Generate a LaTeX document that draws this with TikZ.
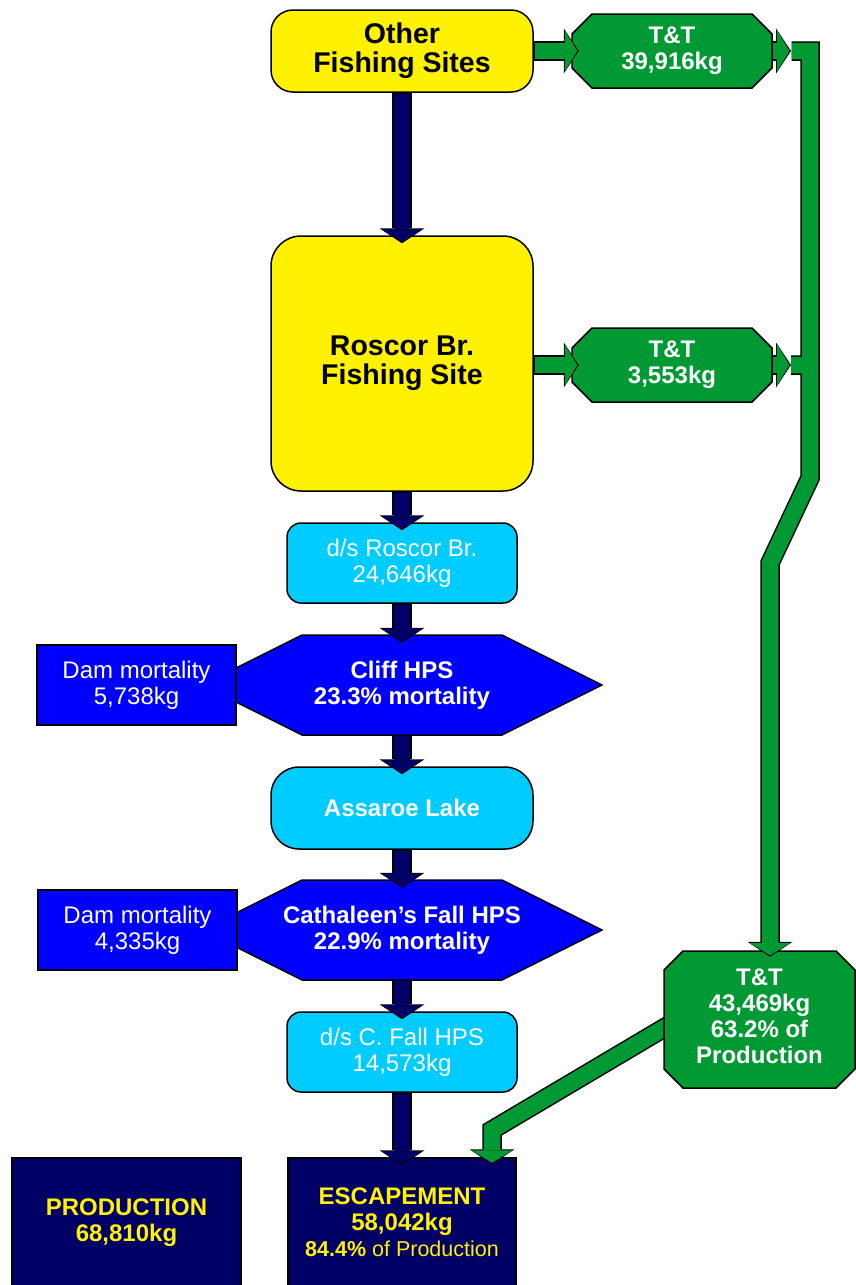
\documentclass[tikz,border=0pt]{standalone}
\usepackage{fontspec}
\setmainfont{Liberation Sans}
\usetikzlibrary{arrows.meta,calc}

\definecolor{ttgreen}{HTML}{009933}
\definecolor{navyblue}{HTML}{000066}
\definecolor{lakecyan}{HTML}{00CCFF}
\definecolor{hpsblue}{HTML}{0000FF}

\begin{document}
\begin{tikzpicture}[x=1pt, y=-1pt,
    every node/.style={align=center, inner sep=0pt},
    big/.style={font=\bfseries\fontsize{28.5}{29}\selectfont},
    txt/.style={font=\fontsize{24}{26}\selectfont},
    btxt/.style={font=\bfseries\fontsize{24}{26}\selectfont},
    yellowbox/.style={draw=black, line width=1.5pt, fill=yellow, minimum width=262pt, big},
    cyanbox/.style={draw=black, line width=1.5pt, fill=lakecyan, text=white,
        rounded corners=14pt, minimum width=230pt, minimum height=80pt},
    dambox/.style={draw=black, line width=1.5pt, fill=hpsblue, text=white, txt,
        minimum width=199pt, minimum height=80pt},
    darkbox/.style={draw=black, line width=1.5pt, fill=navyblue, text=yellow, btxt,
        minimum height=129pt},
    hexa/.style={draw=black, line width=1.5pt, fill=hpsblue},
    octa/.style={draw=black, line width=1.5pt, fill=ttgreen},
    capt/.style={text=white, btxt},
    fat/.style 2 args={draw=#1, line width=16.5pt,
        -{Triangle[width=41pt, length=12.5pt, line width=0pt]},
        shorten >=#2+1.5pt, shorten <=1pt,
        preaction={draw=black, line width=19.5pt,
            -{Triangle[width=45pt, length=15pt, line width=0pt]},
            shorten >=#2, shorten <=0.5pt}},
    flow/.style={fat={navyblue}{-8pt}},
    gflow/.style={fat={ttgreen}{-7pt}}
]
    \useasboundingbox (0,0) rectangle (856,1285);

    \draw[hexa] (202,685) -- (302,635) -- (502,635) -- (602,685) -- (502,735) -- (302,735) -- cycle;
    \draw[hexa] (202,930) -- (302,880) -- (502,880) -- (602,930) -- (502,980) -- (302,980) -- cycle;
    \draw[octa] (592,14) -- (752,14) -- (772,34) -- (772,68) -- (752,88) -- (592,88) -- (572,68) -- (572,34) -- cycle;
    \draw[octa] (592,328) -- (752,328) -- (772,348) -- (772,382) -- (752,402) -- (592,402) -- (572,382) -- (572,348) -- cycle;

    \node[yellowbox, rounded corners=22pt, minimum height=82pt] (ofs) at (402,51) {Other\\Fishing Sites};
    \node[yellowbox, rounded corners=30pt, minimum height=255pt] (rb) at (402,363.5) {Roscor Br.\\Fishing Site};
    \node[cyanbox, txt] (dsr) at (402,563) {d/s Roscor Br.\\24,646kg};
    \node[capt, minimum height=100pt] (cliff) at (402,685) {Cliff HPS\\23.3\% mortality};
    \node[cyanbox, btxt, rounded corners=28pt, minimum width=262pt, minimum height=82pt] (lake) at (402,808) {Assaroe Lake};
    \node[capt, minimum height=100pt] (cath) at (402,930) {Cathaleen’s Fall HPS\\22.9\% mortality};
    \node[cyanbox, txt] (dsc) at (402,1052) {d/s C. Fall HPS\\14,573kg};
    \node[dambox] (dm1) at (136.5,685) {Dam mortality\\5,738kg};
    \node[dambox] (dm2) at (137.5,930) {Dam mortality\\4,335kg};
    \node[capt, minimum width=200pt, minimum height=74pt] (tt1) at (672,51) {T\&T\\39,916kg};
    \node[capt, minimum width=200pt, minimum height=74pt] (tt2) at (672,365) {T\&T\\3,553kg};
    \node[darkbox, minimum width=228pt] (esc) at (402,1222.5) {ESCAPEMENT\\58,042kg\\{\fontsize{21.5}{26}\selectfont 84.4\% \mdseries of Production}};
    \node[darkbox, minimum width=229pt] (prod) at (126.5,1222.5) {PRODUCTION\\68,810kg};

    \coordinate (j1) at (791,51);
    \coordinate (j2) at (791,365);
    \coordinate (k1) at (810,51);
    \coordinate (k2) at (810,478);
    \coordinate (k3) at (770,563);
    \coordinate (k4) at (492,1130);
    \coordinate (t3w) at (664,1028);

    \draw[gflow] ($(t3w)!-15pt!(k4)$) -- (k4) -- (k4 |- esc.north);

    \draw[octa] (683,951) -- (836,951) -- (855,970) -- (855,1069) -- (836,1088) -- (683,1088) -- (664,1069) -- (664,970) -- cycle;
    \node[capt, minimum width=191pt, minimum height=131pt] (tt3) at (759.5,1016.5) {T\&T\\43,469kg\\63.2\% of\\Production};

    \draw[fat={ttgreen}{-6pt}] (j2) -- (j2 -| k2) (j1) -- (k1) -- (k2) -- (k3) -- (k3 |- tt3.north);

    \draw[flow] (ofs) -- (rb);
    \draw[flow] (rb) -- (dsr);
    \draw[flow] (dsr) -- (cliff);
    \draw[flow] (cliff) -- (lake);
    \draw[flow] (lake) -- (cath);
    \draw[flow] (cath) -- (dsc);
    \draw[flow] (dsc) -- (esc);
    \draw[gflow] (ofs.east) -- (tt1.west);
    \draw[gflow] (rb.east |- tt2) -- (tt2.west);
    \draw[fat={ttgreen}{0pt}] (tt1.east) -- (j1);
    \draw[fat={ttgreen}{0pt}] (tt2.east) -- (j2);
\end{tikzpicture}
\end{document}
